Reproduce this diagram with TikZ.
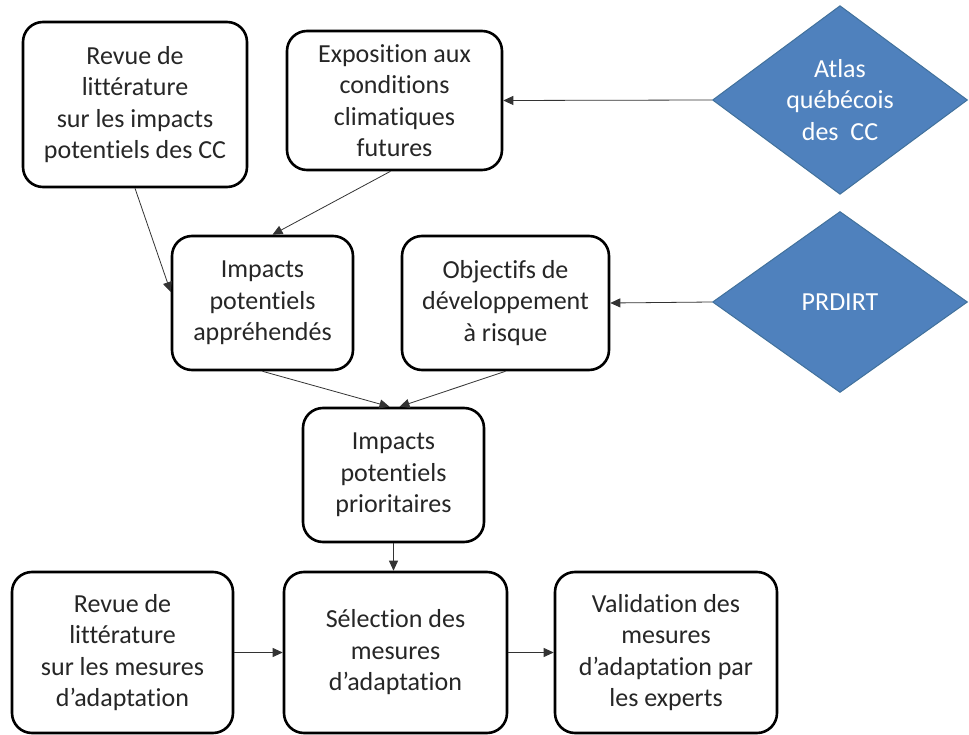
\documentclass[tikz,border=0pt]{standalone}
\usepackage{fontspec}
\setmainfont{Carlito}[Ligatures=CommonOff]
\usetikzlibrary{shapes.geometric,arrows.meta,calc}
\definecolor{dfill}{HTML}{4F81BD}
\definecolor{dline}{HTML}{41719C}
\begin{document}
\begin{tikzpicture}[x=1pt,y=-1pt,
  box/.style={draw=black,line width=2.6pt,rounded corners=20pt,fill=white,
    align=center,inner sep=0pt,font=\fontsize{26}{31.5}\selectfont,text=black!85},
  dia/.style={shape=diamond,draw=dline,line width=1pt,fill=dfill,inner sep=0pt,
    align=center,font=\fontsize{26}{31.5}\selectfont,text=white},
  conn/.style={line width=0.8pt,draw=black!80,-{Triangle[length=10pt,width=9pt]}}]
\useasboundingbox (0,0) rectangle (969,735);
\node[box,minimum width=224pt,minimum height=165pt] (B1) at (135,104.5)
  {Revue de\\littérature\\sur les impacts\\potentiels des CC};
\node[box,minimum width=215pt,minimum height=139pt] (B2) at (394.5,100.5)
  {Exposition aux\\conditions\\climatiques\\futures};
\node[dia,minimum width=255pt,minimum height=182pt] (D1) at (840,100)
  {Atlas\\québécois\\des~~CC};
\node[box,minimum width=181pt,minimum height=134pt] (B4) at (262.5,303)
  {Impacts\\potentiels\\appréhendés};
\node[box,minimum width=207pt,minimum height=134pt] (B5) at (505.5,303)
  {Objectifs de\\développement\\à risque};
\node[dia,minimum width=255pt,minimum height=181pt] (D2) at (840,302)
  {PRDIRT};
\node[box,minimum width=181pt,minimum height=134pt] (B7) at (393.5,475)
  {Impacts\\potentiels\\prioritaires};
\node[box,minimum width=221pt,minimum height=161pt] (B8) at (122.5,652.5)
  {Revue de\\littérature\\sur les mesures\\d’adaptation};
\node[box,minimum width=223pt,minimum height=161pt] (B9) at (395.5,652.5)
  {Sélection des\\mesures\\d’adaptation};
\node[box,minimum width=222pt,minimum height=161pt] (B10) at (666,652.5)
  {Validation des\\mesures\\d’adaptation par\\les experts};
\draw[conn] (D1.west) -- (B2.east);
\draw[conn] (D2.west) -- (B5.east);
\draw[conn] (B1.south) -- ([yshift=11pt]B4.west);
\draw[conn] ([xshift=-4pt]B2.south) -- ([xshift=10pt]B4.north);
\draw[conn] (B4.south) -- ([xshift=-4pt]B7.north);
\draw[conn] (B5.south) -- ([xshift=6pt]B7.north);
\draw[conn] (B7.south) -- (B7.south |- B9.north);
\draw[conn] (B8.east) -- (B9.west);
\draw[conn] (B9.east) -- (B10.west);
\end{tikzpicture}
\end{document}
